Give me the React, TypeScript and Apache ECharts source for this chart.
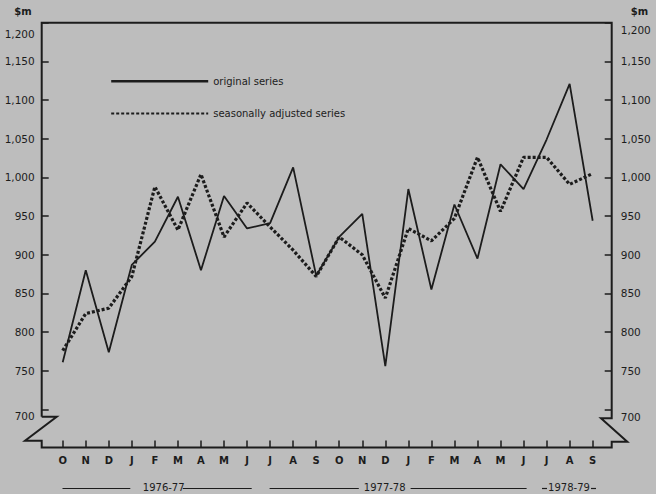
import React, { useEffect, useRef } from "react";
import * as echarts from "echarts";

// ---- data ----
const months = ["O", "N", "D", "J", "F", "M", "A", "M", "J", "J", "A", "S", "O", "N", "D", "J", "F", "M", "A", "M", "J", "J", "A", "S"];
const originalSeries = [761, 880, 774, 887, 917, 975, 880, 976, 934, 941, 1013, 873, 923, 953, 756, 985, 855, 965, 895, 1017, 985, 1049, 1121, 944];
const adjustedSeries = [776, 824, 831, 872, 988, 932, 1004, 923, 967, 936, 906, 872, 923, 900, 844, 934, 918, 947, 1026, 956, 1026, 1026, 991, 1005];
const seriesNames = ["original series", "seasonally adjusted series"];
const yearLabels = ["1976-77", "1977-78", "1978-79"];
const unitLabel = "$m";
const yMin = 700;
const yMax = 1200;
const yStep = 50;

// ---- layout / style ----
const W = 656;
const H = 494;
const INK = "#1c1c1c";
const BG = "#bdbdbd";
const FONT = "DejaVu Sans";
const FRAME_L = 41.7;
const FRAME_R = 611.7;
const FRAME_T = 22.7;
const XAXIS_Y = 447.5;
const GRID = { left: 51.2, right: 51.8, top: 22.7, bottom: 84.5 };

const fmt = (v: number) => v.toLocaleString("en-US");

export default function App() {
  const ref = useRef<HTMLDivElement>(null);
  useEffect(() => {
    if (!ref.current) return;
    const chart = echarts.init(ref.current, undefined, { renderer: "svg", width: W, height: H });

    const framePoints = [
      [FRAME_L, 416.7], [FRAME_L, FRAME_T], [FRAME_R, FRAME_T], [FRAME_R, 418.3],
      [601, 418.3], [627.3, 441.7], [FRAME_R, 441.7], [FRAME_R, XAXIS_Y],
      [FRAME_L, XAXIS_Y], [FRAME_L, 440.7], [25, 440.7], [56.7, 416.7], [FRAME_L, 416.7],
    ];

    const yearY = 487.5;
    const yearFont = `10px "${FONT}"`;
    const lineSeg = (x1: number, x2: number) => ({
      type: "line",
      shape: { x1, y1: yearY + 1, x2, y2: yearY + 1 },
      style: { stroke: INK, lineWidth: 1.2 },
      silent: true,
    });
    const yearText = (text: string, x: number) => ({
      type: "text",
      x,
      y: yearY,
      style: { text, font: yearFont, fill: INK, align: "center", verticalAlign: "middle" },
      silent: true,
    });

    const labelRich = (shiftTop: number, shiftBottom: number) => ({
      a: { fontFamily: FONT, fontSize: 10.5, color: INK, padding: [shiftTop, 0, 0, 0] },
      b: { fontFamily: FONT, fontSize: 10.5, color: INK, padding: [shiftBottom, 0, 0, 0] },
    });

    const yAxisBase = {
      type: "value",
      min: yMin,
      max: yMax,
      interval: yStep,
      splitLine: { show: false },
      axisLine: { show: false },
      axisTick: { show: true, inside: true, length: 7, lineStyle: { color: INK, width: 1.5 } },
      nameTextStyle: { fontFamily: FONT, fontSize: 10, fontWeight: "bold", color: INK },
    };

    chart.setOption({
      animation: false,
      backgroundColor: BG,
      grid: GRID,
      legend: {
        data: [
          { name: seriesNames[0], lineStyle: { width: 2.4 } },
          { name: seriesNames[1] },
        ],
        orient: "vertical",
        left: 105,
        top: 70.7,
        itemWidth: 97,
        itemHeight: 14,
        itemGap: 21,
        itemStyle: { opacity: 0 },
        textStyle: { fontFamily: FONT, fontSize: 10, color: INK },
      },
      xAxis: {
        type: "category",
        data: months,
        boundaryGap: true,
        offset: XAXIS_Y - (H - GRID.bottom),
        axisLine: { show: false },
        axisTick: { show: true, alignWithLabel: true, inside: true, interval: 0, length: 7, lineStyle: { color: INK, width: 1.5 } },
        axisLabel: { interval: 0, margin: 8, fontFamily: FONT, fontSize: 10, fontWeight: "bold", color: INK },
        splitLine: { show: false },
      },
      yAxis: [
        {
          ...yAxisBase,
          position: "left",
          offset: GRID.left - FRAME_L,
          name: unitLabel,
          nameLocation: "end",
          nameGap: 6,
          nameTextStyle: { ...yAxisBase.nameTextStyle, align: "right", padding: [0, 10, 0, 0] },
          axisLabel: {
            margin: 7,
            fontFamily: FONT,
            fontSize: 10.5,
            color: INK,
            formatter: (v: number) => (v === yMax ? `{a|${fmt(v)}}` : v === yMin ? `{b|${fmt(v)}}` : fmt(v)),
            rich: labelRich(23, 13),
          },
        },
        {
          ...yAxisBase,
          position: "right",
          offset: FRAME_R - (W - GRID.right),
          name: unitLabel,
          nameLocation: "end",
          nameGap: 6,
          nameTextStyle: { ...yAxisBase.nameTextStyle, align: "left", padding: [0, 0, 0, 19] },
          axisLabel: {
            margin: 9,
            fontFamily: FONT,
            fontSize: 10.5,
            color: INK,
            formatter: (v: number) => (v === yMax ? `{a|${fmt(v)}}` : v === yMin ? `{b|${fmt(v)}}` : fmt(v)),
            rich: labelRich(15, 14),
          },
        },
      ],
      series: [
        {
          name: seriesNames[0],
          type: "line",
          data: originalSeries,
          symbol: "none",
          lineStyle: { color: INK, width: 1.8, type: "solid" },
          itemStyle: { color: INK },
        },
        {
          name: seriesNames[1],
          type: "line",
          data: adjustedSeries,
          symbol: "none",
          lineStyle: { color: INK, width: 3.2, type: [3, 2] },
          itemStyle: { color: INK },
          z: 3,
        },
      ],
      graphic: [
        {
          type: "polyline",
          shape: { points: framePoints },
          style: { stroke: INK, lineWidth: 2, fill: null, lineJoin: "miter" },
          silent: true,
          z: 10,
        },
        lineSeg(62.5, 130.3),
        yearText(yearLabels[0], 163.7),
        lineSeg(182.8, 251.7),
        lineSeg(269.6, 358.8),
        yearText(yearLabels[1], 384.7),
        lineSeg(410.6, 526.6),
        lineSeg(542, 547),
        yearText(yearLabels[2], 569),
        lineSeg(591, 596),
      ],
    });
    return () => chart.dispose();
  }, []);

  return <div ref={ref} style={{ position: "fixed", left: 0, top: 0, width: W, height: H }} />;
}
